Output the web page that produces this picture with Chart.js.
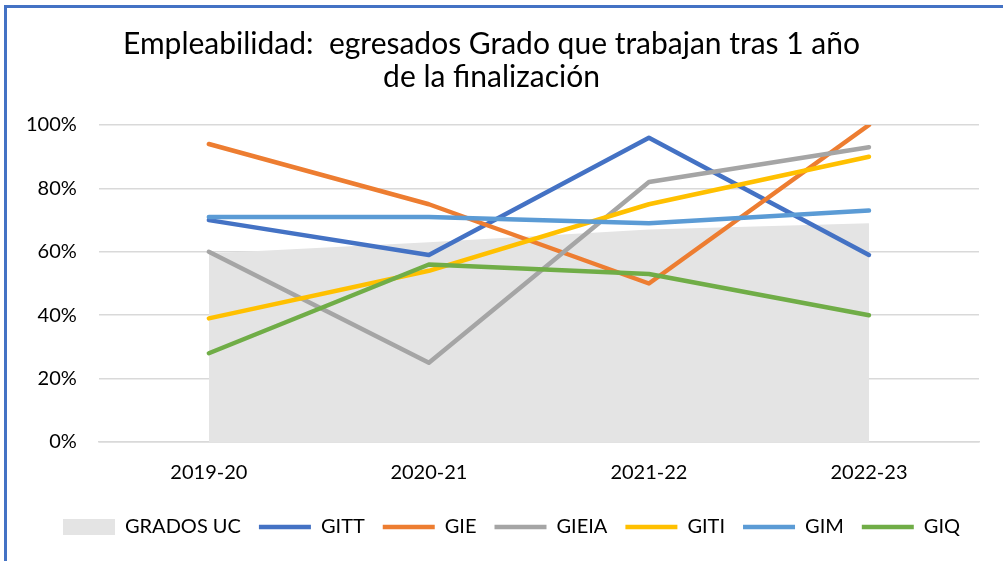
<!DOCTYPE html>
<html lang="es">
<head>
  <meta charset="UTF-8">
  <title>Empleabilidad egresados Grado</title>
  <script src="https://cdn.jsdelivr.net/npm/chart.js"></script>
  <style>
    html, body { margin: 0; padding: 0; background: #fff; overflow: hidden; }
    #wrap { position: relative; width: 1003px; height: 561px; }
    #chart { position: absolute; left: 0; top: 0; }
    /* blue frame, only top and left edges are visible */
    .frameTop { position: absolute; left: 4px; top: 5px; right: 0; height: 3px; background: #4472C4; }
    .frameLeft { position: absolute; left: 4px; top: 5px; bottom: 0; width: 3px; background: #4472C4; }
  </style>
</head>
<body>
  <div id="wrap">
    <canvas id="chart" width="1003" height="561"></canvas>
    <div class="frameTop"></div>
    <div class="frameLeft"></div>
  </div>

  <script>
    // data (percent)
    const years = ["2019-20", "2020-21", "2021-22", "2022-23"];
    const gradosUC = [59.5, 63, 67, 69];
    const gitt  = [70, 59, 96, 59];
    const gie   = [94, 75, 50, 100];
    const gieia = [60, 25, 82, 93];
    const giti  = [39, 54, 75, 90];
    const gim   = [71, 71, 69, 73];
    const giq   = [28, 56, 53, 40];
    const yTicks = [0, 20, 40, 60, 80, 100];

    const FONT = "Lato";

    function lineSet(label, data, color, order) {
      return {
        label: label,
        data: data,
        borderColor: color,
        backgroundColor: color,
        borderWidth: 4.5,
        borderCapStyle: "round",
        borderJoinStyle: "round",
        pointRadius: 0,
        pointHoverRadius: 0,
        pointStyle: "line",
        fill: false,
        tension: 0,
        order: order
      };
    }

    // nudge the legend a bit to the right, like in the original
    const legendShift = {
      id: "legendShift",
      afterLayout(chart) {
        chart.legend.left += 20;
        chart.legend.right += 20;
      }
    };

    const ctx = document.getElementById("chart").getContext("2d");
    new Chart(ctx, {
      type: "line",
      data: {
        labels: years,
        datasets: [
          {
            label: "GRADOS UC",
            data: gradosUC,
            backgroundColor: "#e4e4e4",
            borderColor: "#e4e4e4",
            borderWidth: 0,
            pointRadius: 0,
            pointHoverRadius: 0,
            pointStyle: "rect",
            fill: "origin",
            order: 10
          },
          lineSet("GITT", gitt, "#4472C4", 6),
          lineSet("GIE", gie, "#ED7D31", 5),
          lineSet("GIEIA", gieia, "#A5A5A5", 4),
          lineSet("GITI", giti, "#FFC000", 3),
          lineSet("GIM", gim, "#5B9BD5", 2),
          lineSet("GIQ", giq, "#70AD47", 1)
        ]
      },
      plugins: [legendShift],
      options: {
        responsive: false,
        animation: false,
        devicePixelRatio: 1,
        layout: { padding: { left: 4, right: 24, top: 0, bottom: 14 } },
        plugins: {
          title: {
            display: true,
            text: ["Empleabilidad:  egresados Grado que trabajan tras 1 año", "de la finalización"],
            color: "#000",
            font: { family: FONT, size: 30, weight: "normal", lineHeight: 1.1 },
            padding: { top: 28, bottom: 31 }
          },
          legend: {
            position: "bottom",
            labels: {
              color: "#000",
              font: { family: FONT, size: 20 },
              usePointStyle: true,
              pointStyleWidth: 52,
              boxHeight: 16,
              padding: 18,
              sort: (a, b) => a.datasetIndex - b.datasetIndex
            }
          },
          tooltip: { enabled: false }
        },
        scales: {
          x: {
            offset: true,
            grid: { display: false, drawTicks: false },
            border: { display: true, color: "#d9d9d9", width: 1.5 },
            ticks: {
              color: "#000",
              font: { family: FONT, size: 20 },
              padding: 19
            },
            afterFit: (scale) => { scale.height -= 5; }
          },
          y: {
            min: 0,
            max: 100,
            afterBuildTicks: (scale) => { scale.ticks = yTicks.map(v => ({ value: v })); },
            grid: { color: "#d9d9d9", lineWidth: 1.5, drawTicks: false },
            border: { display: false },
            ticks: {
              color: "#000",
              font: { family: FONT, size: 20 },
              padding: 22,
              callback: (v) => v + "%"
            }
          }
        }
      }
    });
  </script>
</body>
</html>
